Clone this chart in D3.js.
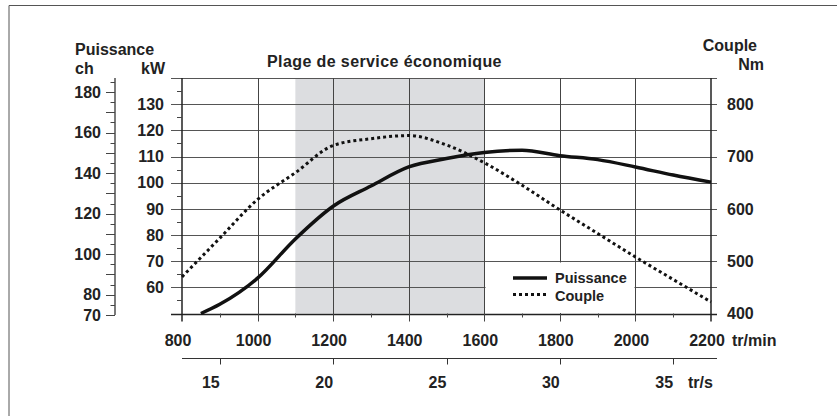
<!DOCTYPE html>
<html><head><meta charset="utf-8">
<script src="https://cdn.jsdelivr.net/npm/d3@7"></script>
<style>
html,body{margin:0;padding:0;background:#fff;}
svg{display:block;font-family:"Liberation Sans",Arial,sans-serif;font-weight:bold;}
</style></head><body>
<svg id="c" width="837" height="416"></svg>
<script>
// ---- data ----
const rpmTicks = [800,1000,1200,1400,1600,1800,2000,2200];
const rpmMinor = [900,1100,1300,1500,1700,1900,2100];
const kwTicks = [60,70,80,90,100,110,120,130];
const kwGrid = [50,60,70,80,90,100,110,120,130,140];
const kwMinor = [55,65,75,85,95,105,115,125,135];
const chLabels = [70,80,100,120,140,160,180];
const chTickVals = d3.range(70,186,5);
const nmTicks = [400,500,600,700,800];
const trsTicks = [15,20,25,30,35];
const ecoRange = [1100,1600];
const legendRange = [1600,2000];

const powerRpm = [850,900,1000,1100,1200,1300,1400,1500,1600,1700,1800,1900,2000,2100,2200];
const powerKw  = [50,53.5,63.5,78.5,91,98.7,106,109.2,111.5,112.4,110.3,108.8,106,102.9,100.2];
const torqueRpm = [800,900,1000,1100,1200,1300,1400,1500,1600,1700,1800,1900,2000,2100,2200];
const torqueNm  = [470,544,618,669,721,734,740,722,688,645,598,553,508,465,422];

// ---- scales ----
const svg = d3.select("#c");
const x = d3.scaleLinear().domain([800,2200]).range([182,711]);
const yKw = d3.scaleLinear().domain([50,140]).range([313.5,78]);
const yNm = d3.scaleLinear().domain([400,850]).range([313.5,78]);
const yCh = d3.scaleLinear().domain([70,180]).range([315,92]);
const xTrs = d3.scaleLinear().domain([800/60,2200/60]).range([182,711]);
const gridL = 171, gridR = 717;

// frame
svg.append("path").attr("d","M9,416 V5.5 H837").attr("fill","none").attr("stroke","#555").attr("stroke-width",1);

// shaded economical range
svg.append("rect").attr("x",x(ecoRange[0])).attr("y",yKw(140))
  .attr("width",x(ecoRange[1])-x(ecoRange[0])).attr("height",yKw(50)-yKw(140))
  .attr("fill","#dcdde0");

// horizontal grid lines
svg.append("g").selectAll("line").data(kwGrid).join("line")
  .attr("x1",gridL).attr("x2",gridR)
  .attr("y1",d=>Math.round(yKw(d))+0.5).attr("y2",d=>Math.round(yKw(d))+0.5)
  .attr("stroke",d=>d===50?"#222":"#555").attr("stroke-width",d=>d===50?1.5:1);

// vertical grid lines
svg.append("g").selectAll("line").data(rpmTicks.slice(1,-1)).join("line")
  .attr("x1",d=>Math.round(x(d))+0.5).attr("x2",d=>Math.round(x(d))+0.5)
  .attr("y1",yKw(140)).attr("y2",yKw(50)+8)
  .attr("stroke","#444").attr("stroke-width",1);

// legend white box (covers grid inside)
svg.append("rect").attr("x",Math.round(x(legendRange[0]))+1.5).attr("y",Math.round(yKw(70))+1.5)
  .attr("width",Math.round(x(legendRange[1]))-Math.round(x(legendRange[0]))-2)
  .attr("height",Math.round(yKw(50))-Math.round(yKw(70))-2.5)
  .attr("fill","#fff");

// axes lines (kW left and Nm right)
svg.append("line").attr("x1",x(800)).attr("x2",x(800)).attr("y1",yKw(140)).attr("y2",yKw(50)+8)
  .attr("stroke","#222").attr("stroke-width",1.5);
svg.append("line").attr("x1",x(2200)).attr("x2",x(2200)).attr("y1",yKw(140)).attr("y2",yKw(50)+8)
  .attr("stroke","#222").attr("stroke-width",1.5);

// minor x ticks
svg.append("g").selectAll("line").data(rpmMinor).join("line")
  .attr("x1",d=>Math.round(x(d))+0.5).attr("x2",d=>Math.round(x(d))+0.5)
  .attr("y1",yKw(50)).attr("y2",yKw(50)+4).attr("stroke","#444");

// kW minor ticks
svg.append("g").selectAll("line").data(kwMinor).join("line")
  .attr("x1",x(800)-5).attr("x2",x(800))
  .attr("y1",d=>Math.round(yKw(d))+0.5).attr("y2",d=>Math.round(yKw(d))+0.5).attr("stroke","#444");

// kW labels
svg.append("g").selectAll("text").data(kwTicks).join("text")
  .attr("x",164).attr("y",d=>yKw(d)).attr("dy","0.36em").attr("text-anchor","end")
  .attr("font-size",16).attr("fill","#222").text(d=>d);

// Nm labels
svg.append("g").selectAll("text").data(nmTicks).join("text")
  .attr("x",727).attr("y",d=>yNm(d)).attr("dy","0.36em").attr("text-anchor","start")
  .attr("font-size",16).attr("fill","#222").text(d=>d);

// ch axis
svg.append("line").attr("x1",115).attr("x2",115).attr("y1",78).attr("y2",yCh(70))
  .attr("stroke","#222").attr("stroke-width",1.2);
svg.append("g").selectAll("line").data(chTickVals).join("line")
  .attr("x1",d=>d%10===0?106:110.5).attr("x2",115)
  .attr("y1",d=>Math.round(yCh(d))+0.5).attr("y2",d=>Math.round(yCh(d))+0.5).attr("stroke","#444");
svg.append("g").selectAll("text").data(chLabels).join("text")
  .attr("x",101).attr("y",d=>yCh(d)).attr("dy","0.36em").attr("text-anchor","end")
  .attr("font-size",16).attr("fill","#222").text(d=>d);

// rpm labels
svg.append("g").selectAll("text").data(rpmTicks).join("text")
  .attr("x",d=>x(d)-4).attr("y",346).attr("text-anchor","middle")
  .attr("font-size",16).attr("fill","#222").text(d=>d);
svg.append("text").attr("x",732).attr("y",346).attr("font-size",16).attr("fill","#222").text("tr/min");

// tr/s axis
svg.append("line").attr("x1",182).attr("x2",gridR).attr("y1",358.5).attr("y2",358.5)
  .attr("stroke","#333").attr("stroke-width",1.2);
svg.append("g").selectAll("line").data(trsTicks).join("line")
  .attr("x1",d=>Math.round(xTrs(d))+0.5).attr("x2",d=>Math.round(xTrs(d))+0.5)
  .attr("y1",358.5).attr("y2",364.5).attr("stroke","#333");
svg.append("g").selectAll("text").data(trsTicks).join("text")
  .attr("x",d=>xTrs(d)-9).attr("y",388).attr("text-anchor","middle")
  .attr("font-size",16).attr("fill","#222").text(d=>d);
svg.append("text").attr("x",688).attr("y",388).attr("font-size",16).attr("fill","#222").text("tr/s");

// axis titles
svg.append("text").attr("x",75).attr("y",55).attr("font-size",16).attr("fill","#222").text("Puissance");
svg.append("text").attr("x",75).attr("y",74).attr("font-size",16).attr("fill","#222").text("ch");
svg.append("text").attr("x",165).attr("y",74).attr("text-anchor","end").attr("font-size",16).attr("fill","#222").text("kW");
svg.append("text").attr("x",757).attr("y",51).attr("text-anchor","end").attr("font-size",16).attr("fill","#222").text("Couple");
svg.append("text").attr("x",764).attr("y",70).attr("text-anchor","end").attr("font-size",16).attr("fill","#222").text("Nm");
svg.append("text").attr("x",267).attr("y",67).attr("font-size",16).attr("letter-spacing","0.4").attr("fill","#222").text("Plage de service économique");

// curves
const powerLine = d3.line().x((d,i)=>x(powerRpm[i])).y(d=>yKw(d)).curve(d3.curveMonotoneX);
svg.append("path").attr("d",powerLine(powerKw)).attr("fill","none")
  .attr("stroke","#111").attr("stroke-width",3.5).attr("stroke-linejoin","round");
const torqueLine = d3.line().x((d,i)=>x(torqueRpm[i])).y(d=>yNm(d)).curve(d3.curveMonotoneX);
svg.append("path").attr("d",torqueLine(torqueNm)).attr("fill","none")
  .attr("stroke","#111").attr("stroke-width",3).attr("stroke-dasharray","3,3");

// legend
const lg = svg.append("g");
lg.append("line").attr("x1",513).attr("x2",547).attr("y1",278).attr("y2",278).attr("stroke","#111").attr("stroke-width",3.5);
lg.append("line").attr("x1",513).attr("x2",547).attr("y1",294.5).attr("y2",294.5).attr("stroke","#111").attr("stroke-width",3).attr("stroke-dasharray","3,3");
lg.append("text").attr("x",555).attr("y",283).attr("font-size",14.5).attr("fill","#222").text("Puissance");
lg.append("text").attr("x",555).attr("y",301).attr("font-size",14.5).attr("fill","#222").text("Couple");
</script>
</body></html>
